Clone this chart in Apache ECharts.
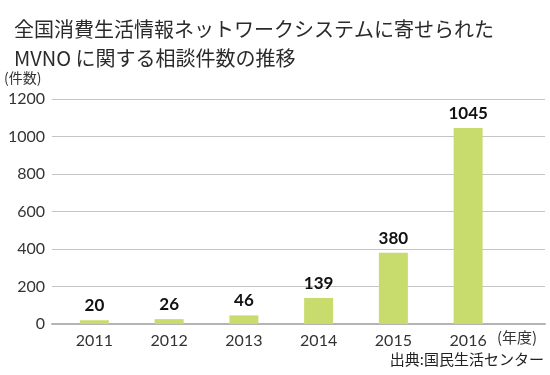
<!DOCTYPE html>
<html>
<head>
<meta charset="utf-8">
<script src="https://cdn.jsdelivr.net/npm/echarts@6/dist/echarts.min.js"></script>
<style>
  html, body { margin: 0; padding: 0; background: #fff; }
  #main { width: 550px; height: 375px; }
</style>
</head>
<body>
<div id="main"></div>
<script>
  var years = ['2011', '2012', '2013', '2014', '2015', '2016']
  var counts = [20, 26, 46, 139, 380, 1045]
  var yTicks = { min: 0, max: 1200, interval: 200 }

  var jp = '"Noto Sans CJK JP", sans-serif'
  var num = 'Lato, "Noto Sans", sans-serif'

  var myChart = echarts.init(document.getElementById('main'))
  var option = {
      animation: false,
      textStyle: { fontFamily: jp },
      title: {
          text: '全国消費生活情報ネットワークシステムに寄せられた\nMVNO に関する相談件数の推移',
          left: 9,
          top: 10,
          textStyle: {
              fontFamily: jp,
              fontSize: 20,
              fontWeight: 'normal',
              color: '#2a2a2a',
              lineHeight: 29
          }
      },
      graphic: [
          { type: 'text', left: 4, top: 71, style: { text: '(件数)', font: '14px ' + jp, fill: '#333' } },
          { type: 'text', left: 497, top: 330, style: { text: '(年度)', font: '15px ' + jp, fill: '#333' } },
          { type: 'text', right: 6, top: 352, style: { text: '出典:国民生活センター', font: '15px ' + jp, fill: '#222' } }
      ],
      grid: [
          { left: 52, right: 5, top: 99, height: 225 },
          { left: 57, width: 448.5, top: 99, height: 225 }
      ],
      xAxis: [{
          gridIndex: 0,
          type: 'value',
          min: 0,
          max: 1,
          axisLine: { show: true, lineStyle: { color: '#b4b4b4', width: 2 } },
          axisTick: { show: false },
          axisLabel: { show: false },
          splitLine: { show: false }
      }, {
          gridIndex: 1,
          type: 'category',
          data: years,
          axisLine: { show: false },
          axisTick: { show: false },
          axisLabel: { fontFamily: num, fontSize: 16, color: '#333', margin: 9 }
      }],
      yAxis: [{
          gridIndex: 0,
          type: 'value',
          min: yTicks.min,
          max: yTicks.max,
          interval: yTicks.interval,
          axisLabel: {
              fontFamily: num, fontSize: 16, color: '#333', margin: 7,
              formatter: function(v) { return String(v) }
          },
          axisLine: { show: false },
          axisTick: { show: false },
          splitLine: { lineStyle: { color: '#c4c4c4', width: 1 } }
      }, {
          gridIndex: 1,
          type: 'value',
          min: yTicks.min,
          max: yTicks.max,
          interval: yTicks.interval,
          show: false
      }],
      series: [{
          type: 'bar',
          xAxisIndex: 1,
          yAxisIndex: 1,
          data: counts,
          barWidth: 29,
          itemStyle: { color: '#c8dc6e' },
          label: {
              show: true,
              position: 'top',
              distance: 6,
              fontFamily: num,
              fontSize: 17,
              fontWeight: 'bold',
              color: '#111'
          }
      }]
  }
  myChart.setOption(option)
</script>
</body>
</html>
